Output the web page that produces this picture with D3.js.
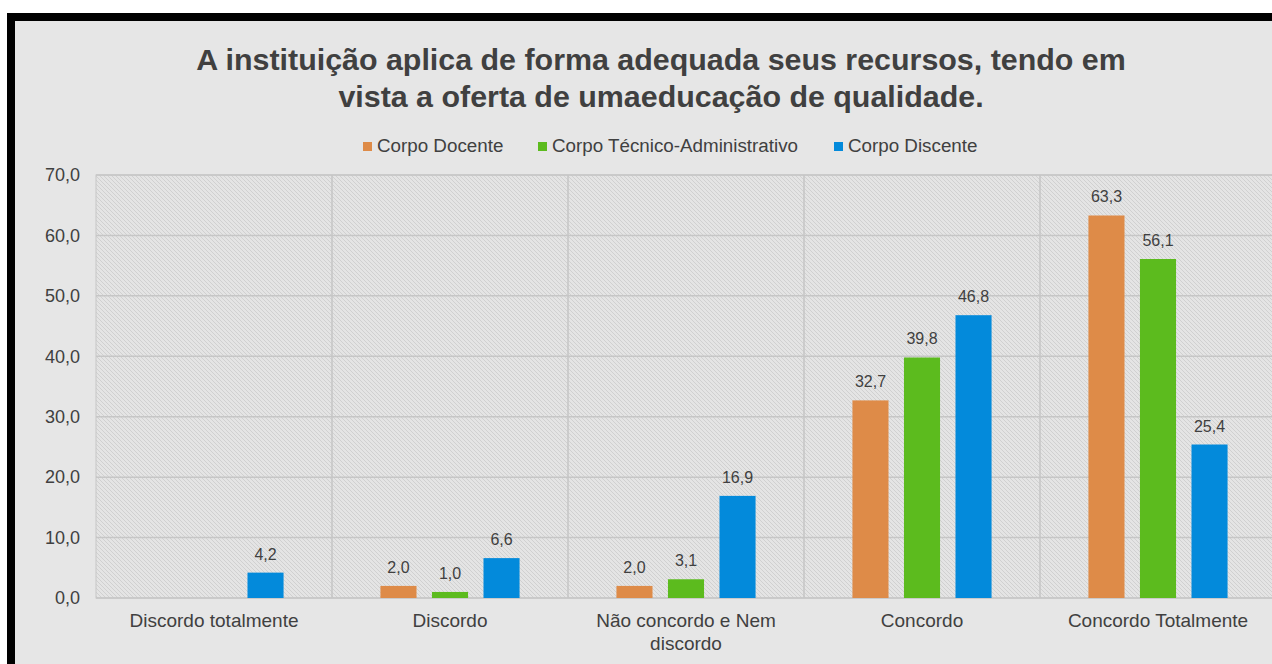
<!DOCTYPE html>
<html>
<head>
<meta charset="utf-8">
<script src="https://cdn.jsdelivr.net/npm/d3@7"></script>
<style>
  body { margin: 0; background: #ffffff; }
  svg { display: block; font-family: "Liberation Sans", Arial, sans-serif; }
</style>
</head>
<body>
<div class="chart"></div>
<script>
const categories = ["Discordo totalmente", "Discordo", "Não concordo e Nem discordo", "Concordo", "Concordo Totalmente"]
const series = ["Corpo Docente", "Corpo Técnico-Administrativo", "Corpo Discente"]
const docente = [null, 2.0, 2.0, 32.7, 63.3]
const tecnico = [null, 1.0, 3.1, 39.8, 56.1]
const discente = [4.2, 6.6, 16.9, 46.8, 25.4]
const yTicks = [0, 10, 20, 30, 40, 50, 60, 70]
const colors = ["#de8b48", "#5cbb1e", "#038adb"]

const width = 1272
const height = 664
const margin = { top: 175, left: 96, bottom: 598, right: 1276 }
const fmt = d => d.toFixed(1).replace(".", ",")
const textColor = "#404040"

const values = [docente, tecnico, discente]
const rows = categories.map(function(c, i) {
  return { cat: c, vals: series.map(function(s, j) { return { s: s, j: j, v: values[j][i] } }) }
})

const svg = d3.select(".chart").append("svg")
  .attr("width", width)
  .attr("height", height)

// hatch pattern for plot area
const pat = svg.append("defs").append("pattern")
  .attr("id", "hatch")
  .attr("patternUnits", "userSpaceOnUse")
  .attr("width", 4)
  .attr("height", 4)
pat.append("rect").attr("width", 4).attr("height", 4).attr("fill", "#e4e4e4")
pat.append("path")
  .attr("d", "M-1,-1L5,5M-1,3L1,5M3,-1L5,1")
  .attr("stroke", "#d0d0d0")
  .attr("stroke-width", 1)

// frame
svg.append("rect").attr("x", 7).attr("y", 13).attr("width", width).attr("height", height)
  .attr("fill", "#000")
svg.append("rect").attr("x", 15).attr("y", 21).attr("width", width).attr("height", height)
  .attr("fill", "#e6e6e6")

// title
const title = svg.append("text")
  .attr("text-anchor", "middle")
  .style("font-size", "30.4px")
  .style("font-weight", "bold")
  .attr("fill", "#404040")
title.append("tspan").attr("x", 661).attr("y", 70)
  .text("A instituição aplica de forma adequada seus recursos, tendo em")
title.append("tspan").attr("x", 661).attr("y", 107)
  .text("vista a oferta de umaeducação de qualidade.")

// legend
const legendX = [363, 538, 834]
const legend = svg.append("g")
series.forEach(function(s, i) {
  legend.append("rect")
    .attr("x", legendX[i]).attr("y", 142)
    .attr("width", 9).attr("height", 9)
    .attr("fill", colors[i])
  legend.append("text")
    .attr("x", legendX[i] + 14).attr("y", 152)
    .style("font-size", "18.8px")
    .attr("fill", textColor)
    .text(s)
})

const x0 = d3.scaleBand()
  .domain(categories)
  .range([margin.left, margin.right])
  .paddingInner(0)

const x1 = d3.scaleBand()
  .domain(series)
  .range([0, x0.bandwidth()])
  .paddingInner(0.3)
  .paddingOuter(0.94)

const y = d3.scaleLinear()
  .domain([0, 70])
  .range([margin.bottom, margin.top])

// plot background
svg.append("rect")
  .attr("x", margin.left).attr("y", margin.top)
  .attr("width", margin.right - margin.left)
  .attr("height", margin.bottom - margin.top)
  .attr("fill", "url(#hatch)")
  .attr("stroke", "#c6c6c6")

// grid lines
svg.append("g").selectAll("line")
  .data(yTicks)
  .enter().append("line")
  .attr("x1", margin.left).attr("x2", margin.right)
  .attr("y1", d => y(d)).attr("y2", d => y(d))
  .attr("stroke", "#c6c6c6")
  .attr("stroke-width", 1.5)

svg.append("g").selectAll("line")
  .data(categories.slice(1))
  .enter().append("line")
  .attr("x1", d => x0(d)).attr("x2", d => x0(d))
  .attr("y1", margin.top).attr("y2", margin.bottom)
  .attr("stroke", "#c6c6c6")
  .attr("stroke-width", 1.5)

// y axis labels
const yAxis = svg.append("g")
  .attr("transform", "translate(" + (margin.left - 6) + ",0)")
  .call(d3.axisLeft(y).tickValues(yTicks).tickFormat(fmt).tickSize(0).tickPadding(10))
yAxis.select(".domain").remove()
yAxis.selectAll("text")
  .style("font-size", "18px")
  .style("font-family", "Liberation Sans, Arial, sans-serif")
  .attr("fill", textColor)

// x axis labels
const xAxis = svg.append("g")
  .attr("transform", "translate(0," + margin.bottom + ")")
  .call(d3.axisBottom(x0).tickSize(0).tickPadding(16))
xAxis.select(".domain").remove()
xAxis.selectAll("text")
  .style("font-size", "19px")
  .style("font-family", "Liberation Sans, Arial, sans-serif")
  .attr("fill", textColor)
  .call(wrap, 225)

function wrap(texts, maxW) {
  texts.each(function() {
    const t = d3.select(this)
    const words = t.text().split(/\s+/)
    const yy = t.attr("y")
    let line = []
    let lineNo = 0
    let tspan = t.text(null).append("tspan").attr("x", 0).attr("y", yy).attr("dy", "0.71em")
    words.forEach(function(w) {
      line.push(w)
      tspan.text(line.join(" "))
      if (tspan.node().getComputedTextLength() > maxW && line.length > 1) {
        line.pop()
        tspan.text(line.join(" "))
        line = [w]
        lineNo++
        tspan = t.append("tspan").attr("x", 0).attr("y", yy)
          .attr("dy", (0.71 + lineNo * 1.17) + "em").text(w)
      }
    })
  })
}

// bars
const groups = svg.append("g").selectAll("g")
  .data(rows)
  .enter().append("g")
  .attr("transform", d => "translate(" + x0(d.cat) + ",0)")

groups.selectAll("rect")
  .data(d => d.vals.filter(v => v.v !== null))
  .enter().append("rect")
  .attr("x", d => x1(d.s))
  .attr("width", x1.bandwidth())
  .attr("y", d => y(d.v))
  .attr("height", d => y(0) - y(d.v))
  .attr("fill", d => colors[d.j])

groups.selectAll("text")
  .data(d => d.vals.filter(v => v.v !== null))
  .enter().append("text")
  .attr("x", d => x1(d.s) + x1.bandwidth() / 2)
  .attr("y", d => y(d.v) - 13)
  .attr("text-anchor", "middle")
  .style("font-size", "16px")
  .attr("fill", textColor)
  .text(d => fmt(d.v))
</script>
</body>
</html>
